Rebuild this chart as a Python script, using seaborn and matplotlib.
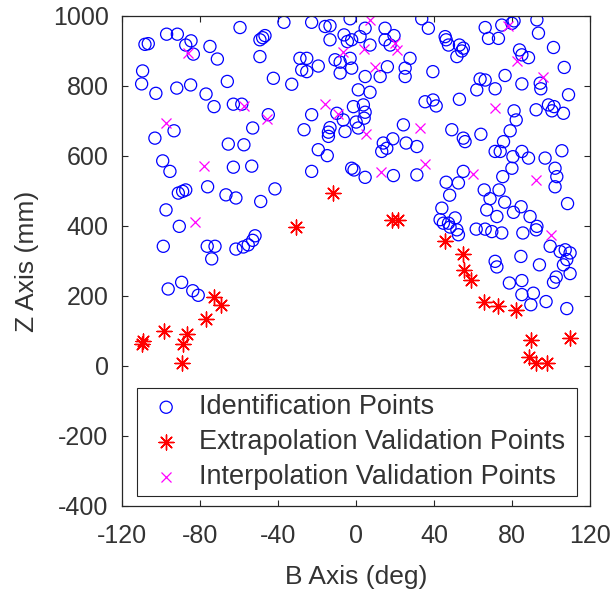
import numpy as np
import pandas as pd
import matplotlib
matplotlib.use("Agg")
import matplotlib.pyplot as plt
import seaborn as sns

# ---------------- data ----------------
ident_b = [-108.1, -106.4, -97.0, -91.5, -84.5, -87.2, -83.3, -74.8, -71.0, -59.4,
           -49.2, -47.8, -46.6, -49.2, -36.9, -109.3, -109.8, -102.5, -91.8, -84.7,
           -76.8, -72.7, -65.9, -62.8, -58.5, -42.3, -44.9, -52.9, -93.2, -103.0,
           -65.4, -57.4, -99.0, -95.3, -62.8, -53.4, -41.5, -76.0, -91.0, -88.8,
           -87.2, -66.6, -61.5, -48.8, -97.3, -90.5, -98.7, -76.2, -72.2, -73.9,
           -61.5, -57.7, -55.2, -52.9, -51.7, -96.2, -89.3, -83.6, -80.8,
           -22.7, -15.8, -13.3, -3.0, 4.7, 14.9, 33.7, 37.1, -13.3, -6.1,
           -4.4, -2.2, 2.1, 7.2, 14.9, 17.5, 19.5, -28.7, -25.2, -27.8,
           -25.2, -19.3, -10.7, -8.1, -3.0, -2.2, -8.1, 4.7, 12.4, 16.1,
           25.2, 27.7, 25.2, 39.4, -32.9, 1.2, 7.2, -1.3, 3.8, 4.7,
           4.2, -22.7, -9.8, -6.5, 0.1, 1.2, -13.3, -14.1, -14.1, -5.6,
           -26.6, 24.3, 35.4, 39.5, 41.1, 14.0, 15.8, 13.2, 18.9, 25.7,
           31.2, -19.3, -14.7, -22.7, -2.2, -1.0, 4.7, 19.2, 31.2,
           45.7, 46.2, 47.4, 53.0, 54.2, 55.0, 51.7, 66.2, 67.9, 73.0,
           74.7, 79.9, 81.0, 92.7, 93.5, 101.2, 83.8, 85.0, 88.4, 106.7,
           63.6, 66.2, 61.9, 71.3, 76.4, 85.0, 94.4, 94.7, 108.9, 53.0,
           81.0, 82.1, 92.3, 98.6, 101.5, 100.4, 106.3, 49.1, 55.0, 55.9,
           64.0, 79.0, 75.6, 71.3, 73.9, 80.4, 79.9, 75.2, 73.3, 85.0,
           88.4, 96.9, 102.0, 102.9, 102.0, 105.5, 55.0, 52.5, 46.2, 48.0,
           65.7, 68.7, 76.2, 84.6, 108.4, 44.0, 43.1, 44.8, 47.4, 50.8,
           51.7, 52.5, 48.2, 67.0, 72.2, 80.7, 89.2, 92.7, 61.6, 66.2,
           69.6, 74.7, 85.5, 92.3, 99.5, 104.6, 107.2, 109.7, 108.0, 106.3,
           71.3, 72.2, 84.5, 94.0, 109.7, 102.6, 101.2, 78.6, 85.0, 85.0,
           90.9, 89.6, 97.4, 108.0]
ident_z = [919, 921, 948, 948, 929, 917, 891, 913, 877, 967,
           932, 938, 944, 884, 982, 843, 806, 779, 794, 803,
           777, 741, 813, 748, 748, 822, 718, 680, 672, 651,
           634, 632, 586, 556, 568, 571, 506, 512, 494, 499,
           503, 489, 480, 470, 446, 399, 342, 342, 342, 306,
           334, 340, 346, 359, 372, 220, 239, 215, 202,
           982, 970, 972, 992, 965, 965, 992, 965, 932, 946,
           927, 932, 941, 917, 932, 917, 944, 879, 879, 846,
           841, 857, 875, 868, 879, 851, 837, 827, 827, 855,
           851, 879, 827, 841, 805, 789, 782, 741, 746, 725,
           708, 718, 722, 703, 697, 680, 681, 668, 656, 670,
           675, 689, 755, 760, 743, 637, 622, 613, 649, 637,
           627, 618, 601, 556, 565, 560, 539, 544, 546,
           941, 932, 917, 917, 900, 908, 884, 967, 936, 936,
           974, 979, 986, 989, 951, 910, 903, 889, 881, 853,
           820, 817, 789, 792, 830, 806, 808, 792, 775, 762,
           729, 703, 732, 746, 741, 729, 722, 675, 651, 641,
           662, 672, 641, 613, 613, 598, 565, 541, 503, 613,
           594, 594, 565, 541, 512, 615, 556, 523, 525, 488,
           503, 478, 468, 455, 464, 451, 418, 408, 408, 423,
           389, 375, 397, 446, 427, 439, 427, 399, 391, 391,
           384, 380, 380, 389, 342, 327, 332, 323, 304, 289,
           299, 283, 313, 289, 264, 254, 239, 237, 244, 204,
           208, 175, 184, 164]

extrap_b = [-72.7, -69.3, -77.0, -98.2, -86.7, -88.8, -109.3, -109.8, -89.3,
            -11.9, -30.7, 18.3, 21.7, 45.7, 54.7, 55.4, 58.8, 65.7, 73.0,
            82.1, 89.6, 109.7, 88.4, 92.3, 98.1]
extrap_z = [197, 175, 135, 99, 91, 64, 70, 64, 9,
            493, 397, 416, 416, 356, 321, 275, 246, 184, 172,
            159, 75, 80, 27, 9, 9]

interp_b = [-85.9, -57.2, -45.7, -97.3, -77.9, -82.5, 7.2, -6.5, 4.2, 20.0,
            20.9, 9.8, -15.8, -9.0, 5.0, 32.9, 12.7, 35.4, 78.1, 82.7,
            95.7, 71.3, 59.9, 92.3, 99.8]
interp_z = [894, 743, 705, 694, 572, 411, 989, 898, 905, 922,
            903, 855, 748, 720, 662, 681, 554, 577, 972, 870,
            827, 737, 548, 532, 375]

labels = ["Identification Points", "Extrapolation Validation Points",
          "Interpolation Validation Points"]
x_ticks = [-120, -80, -40, 0, 40, 80, 120]
y_ticks = [-400, -200, 0, 200, 400, 600, 800, 1000]

df_id = pd.DataFrame({"B": ident_b, "Z": ident_z})
df_ex = pd.DataFrame({"B": extrap_b, "Z": extrap_z})
df_in = pd.DataFrame({"B": interp_b, "Z": interp_z})

# ---------------- style ----------------
sns.set_theme(style="ticks")
plt.rcParams["font.family"] = ["Liberation Sans", "DejaVu Sans"]
axcol = "#262626"
plt.rcParams.update({
    "axes.unicode_minus": False,
    "axes.edgecolor": axcol,
    "axes.linewidth": 0.9,
    "xtick.color": axcol,
    "ytick.color": axcol,
    "xtick.direction": "in",
    "ytick.direction": "in",
    "xtick.top": True,
    "ytick.right": True,
    "xtick.major.size": 4,
    "ytick.major.size": 4,
    "xtick.major.width": 0.8,
    "ytick.major.width": 0.8,
})

fig = plt.figure(figsize=(6.16, 5.90), dpi=100)
ax = fig.add_axes([0.1976, 0.1424, 0.7605, 0.8305])

sns.scatterplot(data=df_id, x="B", y="Z", marker="o", s=76, facecolors="none",
                edgecolor="blue", linewidth=0.9, label=labels[0], ax=ax)
sns.scatterplot(data=df_ex, x="B", y="Z", marker=(8, 2, 0), s=115, color="red",
                linewidth=1.0, label=labels[1], ax=ax)
sns.scatterplot(data=df_in, x="B", y="Z", marker="x", s=52, color="magenta",
                linewidth=0.9, label=labels[2], ax=ax)

ax.set_xlim(-120, 120)
ax.set_ylim(-400, 1000)
ax.set_xticks(x_ticks)
ax.set_yticks(y_ticks)
ax.tick_params(labelsize=18, colors=axcol, labelcolor="#333333")
ax.tick_params(axis="x", pad=13)
ax.tick_params(axis="y", pad=9.5)
ax.set_xlabel("B Axis (deg)", fontsize=19, color="#333333", labelpad=12)
ax.set_ylabel("Z Axis (mm)", fontsize=19, color="#333333", labelpad=10)
for sp in ax.spines.values():
    sp.set_visible(True)

leg = ax.legend(loc="lower left", bbox_to_anchor=(0.033, 0.02, 0.939, 0.22),
                mode="expand", fontsize=19.5, frameon=True, fancybox=False,
                edgecolor=axcol, framealpha=1, borderpad=0.22, labelspacing=0.33,
                handletextpad=0.36, borderaxespad=0, handlelength=1.7)
leg.get_frame().set_linewidth(0.8)
for t in leg.get_texts():
    t.set_color("#333333")

fig.savefig("out.png", dpi=100)
